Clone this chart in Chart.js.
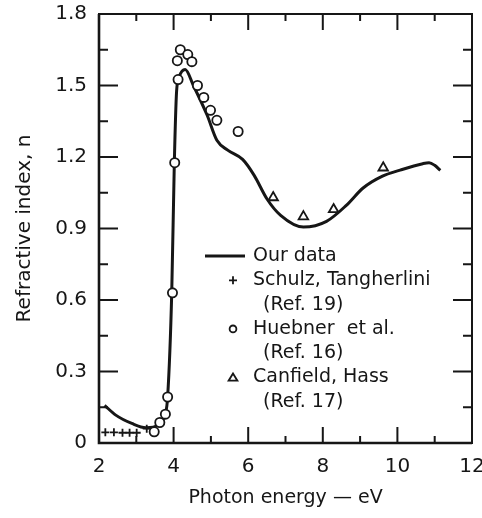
<!DOCTYPE html>
<html>
<head>
<meta charset="utf-8">
<script src="https://cdn.jsdelivr.net/npm/chart.js@4.4.0/dist/chart.umd.min.js"></script>
<style>
  html, body { margin: 0; padding: 0; background: #fff; }
  #wrap { width: 482px; height: 518px; }
</style>
</head>
<body>
<div id="wrap"><canvas id="chart" width="482" height="518"></canvas></div>
<script>
// Values: photon energy (eV) vs refractive index n.
const ourEnergy = [2.15, 2.45, 2.88, 3.26, 3.45, 3.65, 3.78, 3.84, 3.95, 4.02, 4.08, 4.15, 4.31, 4.53, 4.9, 5.16, 5.46, 5.85, 6.16, 6.5, 6.87, 7.48, 8.1, 8.63, 9.08, 9.6, 10.05, 10.68, 10.85, 11.0, 11.15];
const ourN      = [0.158, 0.117, 0.082, 0.064, 0.066, 0.089, 0.124, 0.193, 0.63, 1.18, 1.475, 1.536, 1.567, 1.5, 1.375, 1.27, 1.228, 1.19, 1.123, 1.025, 0.955, 0.906, 0.93, 0.997, 1.07, 1.12, 1.144, 1.172, 1.176, 1.165, 1.144];

const schulzEnergy = [2.17, 2.40, 2.63, 2.82, 3.01, 3.28];
const schulzN      = [0.045, 0.045, 0.043, 0.043, 0.043, 0.06];

const huebnerEnergy = [3.48, 3.63, 3.78, 3.84, 3.97, 4.03, 4.12, 4.10, 4.18, 4.38, 4.49, 4.64, 4.81, 4.99, 5.16, 5.73];
const huebnerN      = [0.047, 0.086, 0.121, 0.193, 0.63, 1.176, 1.525, 1.604, 1.65, 1.63, 1.60, 1.50, 1.45, 1.396, 1.354, 1.307];

const canfieldEnergy = [6.67, 7.48, 8.29, 9.62];
const canfieldN      = [1.03, 0.95, 0.98, 1.155];

const xTicks = [2, 4, 6, 8, 10, 12];
const xMinor = [3, 5, 7, 9, 11];
const yTicks = [0, 0.3, 0.6, 0.9, 1.2, 1.5, 1.8];
const yMinor = [0.15, 0.45, 0.75, 1.05, 1.35, 1.65];

const legendNames = ["Our data", "Schulz, Tangherlini", "Huebner  et al.", "Canfield, Hass"];
const legendRefs = [null, "(Ref. 19)", "(Ref. 16)", "(Ref. 17)"];

const INK = "#161616";
const FONT = "'DejaVu Sans', sans-serif";

function pairs(xs, ys) {
  return xs.map((x, i) => ({ x, y: ys[i] }));
}

// box, inward major/minor ticks on all four sides
const framePlugin = {
  id: "frame",
  afterDatasetsDraw(chart) {
    const { ctx, chartArea: a, scales: { x, y } } = chart;
    ctx.save();
    ctx.strokeStyle = INK;
    ctx.lineCap = "butt";
    ctx.lineWidth = 2;
    ctx.strokeRect(a.left, a.top, a.right - a.left, a.bottom - a.top);
    ctx.lineWidth = 2.6;
    ctx.beginPath();
    ctx.moveTo(a.left, a.top);
    ctx.lineTo(a.left, a.bottom);
    ctx.lineTo(a.right, a.bottom);
    ctx.stroke();

    ctx.lineWidth = 2;
    ctx.beginPath();
    const xt = (vals, len) => vals.forEach((v) => {
      const p = x.getPixelForValue(v);
      ctx.moveTo(p, a.bottom); ctx.lineTo(p, a.bottom - len);
      ctx.moveTo(p, a.top); ctx.lineTo(p, a.top + len);
    });
    const yt = (vals, len) => vals.forEach((v) => {
      const p = y.getPixelForValue(v);
      ctx.moveTo(a.left, p); ctx.lineTo(a.left + len, p);
      ctx.moveTo(a.right, p); ctx.lineTo(a.right - len, p);
    });
    xt(xTicks, 16);
    xt(xMinor, 7);
    yt(yTicks, 19);
    yt(yMinor, 9);
    ctx.stroke();
    ctx.restore();
  }
};

const legendPlugin = {
  id: "sideLegend",
  afterDraw(chart) {
    const { ctx } = chart;
    const rowY = (i) => 256 + i * 24.3;
    const markX = 233, textX = 253, refX = 263;
    ctx.save();
    ctx.fillStyle = INK;
    ctx.strokeStyle = INK;
    ctx.font = "19px " + FONT;
    ctx.textBaseline = "middle";
    ctx.textAlign = "left";

    let row = 0;
    legendNames.forEach((name, i) => {
      const yy = rowY(row);
      ctx.beginPath();
      if (i === 0) {
        ctx.lineWidth = 3;
        ctx.moveTo(205, yy); ctx.lineTo(245, yy);
      } else if (i === 1) {
        ctx.lineWidth = 1.8;
        ctx.moveTo(markX - 4, yy); ctx.lineTo(markX + 4, yy);
        ctx.moveTo(markX, yy - 4); ctx.lineTo(markX, yy + 4);
      } else if (i === 2) {
        ctx.lineWidth = 1.8;
        ctx.arc(markX, yy, 3.4, 0, Math.PI * 2);
      } else {
        ctx.lineWidth = 1.8;
        ctx.moveTo(markX, yy - 4); ctx.lineTo(markX + 4.4, yy + 3.2);
        ctx.lineTo(markX - 4.4, yy + 3.2); ctx.closePath();
      }
      ctx.stroke();
      ctx.fillText(name, textX, yy);
      row++;
      if (legendRefs[i]) {
        ctx.fillText(legendRefs[i], refX, rowY(row));
        row++;
      }
    });
    ctx.restore();
  }
};

new Chart(document.getElementById("chart"), {
  type: "scatter",
  data: {
    datasets: [
      {
        label: "Schulz, Tangherlini (Ref. 19)",
        data: pairs(schulzEnergy, schulzN),
        pointStyle: "cross", pointRadius: 4, borderColor: INK, borderWidth: 1.8, order: 1
      },
      {
        label: "Huebner et al. (Ref. 16)",
        data: pairs(huebnerEnergy, huebnerN),
        pointStyle: "circle", pointRadius: 4.6, borderColor: INK, backgroundColor: "#fff", borderWidth: 1.8, order: 1
      },
      {
        label: "Canfield, Hass (Ref. 17)",
        data: pairs(canfieldEnergy, canfieldN),
        pointStyle: "triangle", pointRadius: 5.5, borderColor: INK, backgroundColor: "#fff", borderWidth: 1.8, order: 1
      },
      {
        label: "Our data",
        type: "line",
        data: pairs(ourEnergy, ourN),
        borderColor: INK, borderWidth: 3, pointRadius: 0, fill: false,
        cubicInterpolationMode: "monotone", order: 2
      }
    ]
  },
  options: {
    responsive: false,
    animation: false,
    events: [],
    layout: { padding: { top: 14, right: 10, left: 0, bottom: 0 } },
    plugins: { legend: { display: false }, tooltip: { enabled: false } },
    scales: {
      x: {
        type: "linear", min: 2, max: 12,
        grid: { display: false, drawTicks: false },
        border: { display: false },
        afterBuildTicks: (s) => { s.ticks = xTicks.map((v) => ({ value: v })); },
        afterFit: (s) => { s.height = 75; s.paddingLeft = 0; s.paddingRight = 0; },
        ticks: { color: INK, font: { family: FONT, size: 20 }, padding: 12, maxRotation: 0 },
        title: { display: true, text: "Photon energy — eV", color: INK, font: { family: FONT, size: 19 }, padding: { top: 0, bottom: 9 } }
      },
      y: {
        type: "linear", min: 0, max: 1.8,
        grid: { display: false, drawTicks: false },
        border: { display: false },
        afterBuildTicks: (s) => { s.ticks = yTicks.map((v) => ({ value: v })); },
        afterFit: (s) => { s.width = 99; s.paddingTop = 0; s.paddingBottom = 0; },
        ticks: {
          color: INK, font: { family: FONT, size: 20 }, padding: 12,
          callback: (v) => (v === 0 ? "0" : v.toFixed(1))
        },
        title: { display: true, text: "Refractive index, n", color: INK, font: { family: FONT, size: 20 }, padding: { top: 13, bottom: 0 } }
      }
    }
  },
  plugins: [framePlugin, legendPlugin]
});
</script>
</body>
</html>
